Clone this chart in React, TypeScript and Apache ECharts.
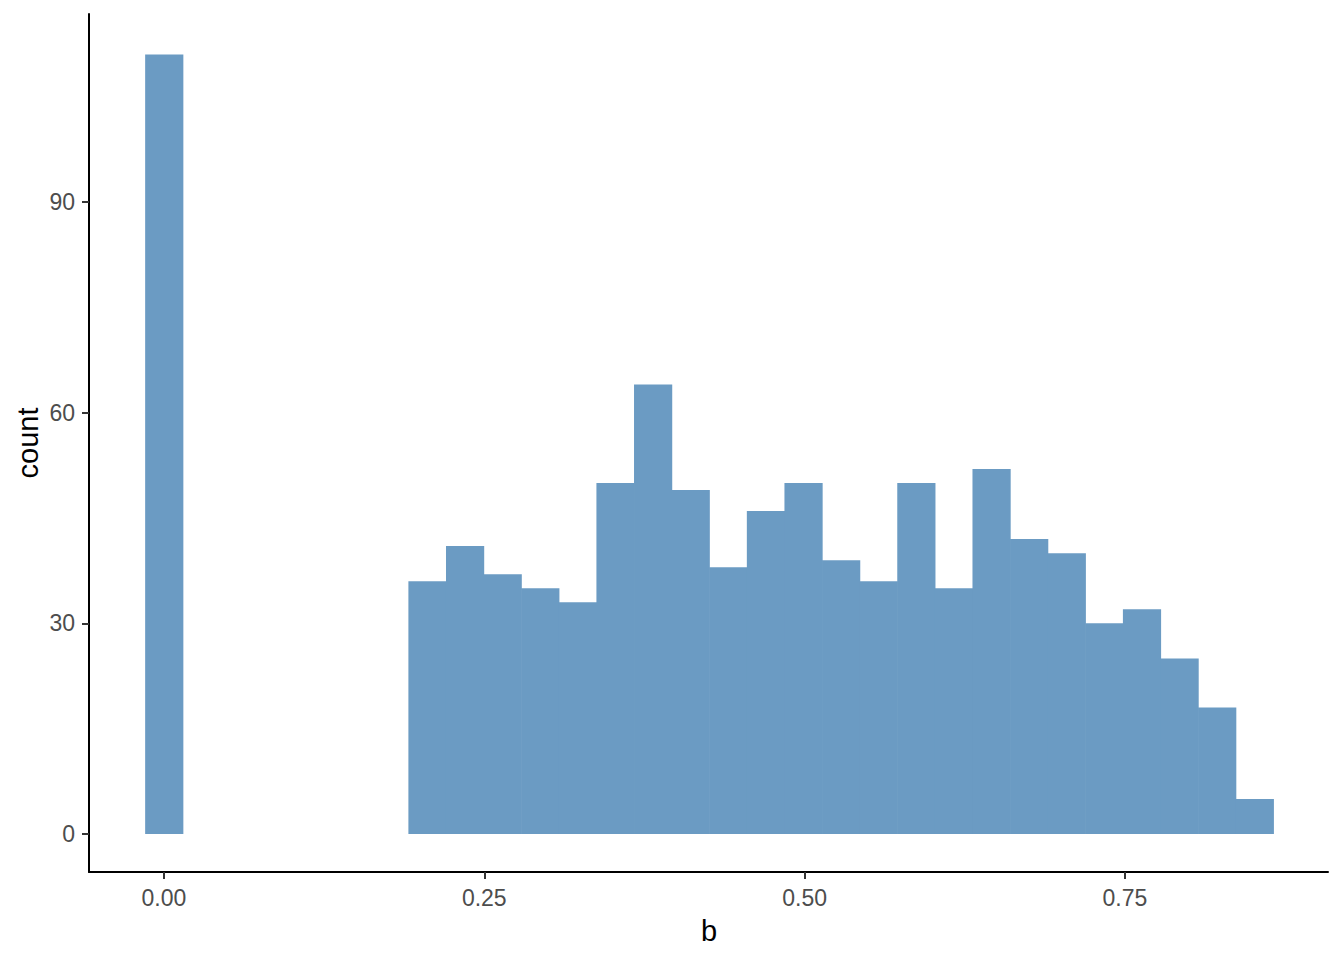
import React, { useEffect, useRef } from "react";
import * as echarts from "echarts";

// Histogram of b: 30 bins, centred on multiples of binWidth (bin 0 centred at 0)
const binWidth = 0.02935;
const counts = [
  111, 0, 0, 0, 0, 0, 0, 36, 41, 37, 35, 33, 50, 64, 49, 38, 46, 50, 39, 36,
  50, 35, 52, 42, 40, 30, 32, 25, 18, 5,
];
const xTicks = [0, 0.25, 0.5, 0.75];
const yTicks = [0, 30, 60, 90];
const xTitle = "b";
const yTitle = "count";

const FONT = "'Liberation Sans', Arial, Helvetica, sans-serif";
const BAR = "#6B9BC3";

export default function App() {
  const ref = useRef<HTMLDivElement>(null);
  useEffect(() => {
    if (!ref.current) return;
    const chart = echarts.init(ref.current, null, { renderer: "svg" });
    const data = counts.map((c, i) => [
      (i - 0.5) * binWidth,
      (i + 0.5) * binWidth,
      c,
    ]);
    chart.setOption({
      animation: false,
      backgroundColor: "#ffffff",
      grid: { left: 89, right: 16, top: 14, bottom: 88, containLabel: false },
      xAxis: {
        type: "value",
        min: -0.0585,
        max: 0.9085,
        splitLine: { show: false },
        axisLine: { show: true, onZero: false, lineStyle: { color: "#000", width: 2 } },
        axisTick: {
          show: true,
          customValues: xTicks,
          length: 7,
          lineStyle: { color: "#333333", width: 2 },
        },
        axisLabel: {
          customValues: xTicks,
          formatter: (v: number) => v.toFixed(2),
          color: "#4D4D4D",
          fontSize: 23,
          fontFamily: FONT,
          margin: 14,
        },
      },
      yAxis: {
        type: "value",
        min: -5.41,
        max: 116.78,
        splitLine: { show: false },
        axisLine: { show: true, onZero: false, lineStyle: { color: "#000", width: 2 } },
        axisTick: {
          show: true,
          customValues: yTicks,
          length: 7,
          lineStyle: { color: "#333333", width: 2 },
        },
        axisLabel: {
          customValues: yTicks,
          color: "#4D4D4D",
          fontSize: 23,
          fontFamily: FONT,
          margin: 14,
        },
      },
      graphic: [
        {
          type: "text",
          x: 709,
          y: 931,
          style: {
            text: xTitle,
            fill: "#000",
            font: `29px ${FONT}`,
            align: "center",
            verticalAlign: "middle",
          },
        },
        {
          type: "text",
          x: 28,
          y: 443,
          rotation: Math.PI / 2,
          style: {
            text: yTitle,
            fill: "#000",
            font: `29px ${FONT}`,
            align: "center",
            verticalAlign: "middle",
          },
        },
      ],
      series: [
        {
          type: "custom",
          encode: { x: [0, 1], y: 2 },
          data,
          renderItem: (params: any, api: any) => {
            const x0 = api.value(0);
            const x1 = api.value(1);
            const c = api.value(2);
            if (!c) return null;
            const p0 = api.coord([x0, 0]);
            const p1 = api.coord([x1, c]);
            return {
              type: "rect",
              shape: {
                x: p0[0],
                y: p1[1],
                width: p1[0] - p0[0] + 0.6,
                height: p0[1] - p1[1],
              },
              style: { fill: BAR, stroke: null, lineWidth: 0 },
            };
          },
        },
      ],
    });
    return () => chart.dispose();
  }, []);
  return (
    <div
      ref={ref}
      style={{ position: "fixed", left: 0, top: 0, width: 1344, height: 960 }}
    />
  );
}
